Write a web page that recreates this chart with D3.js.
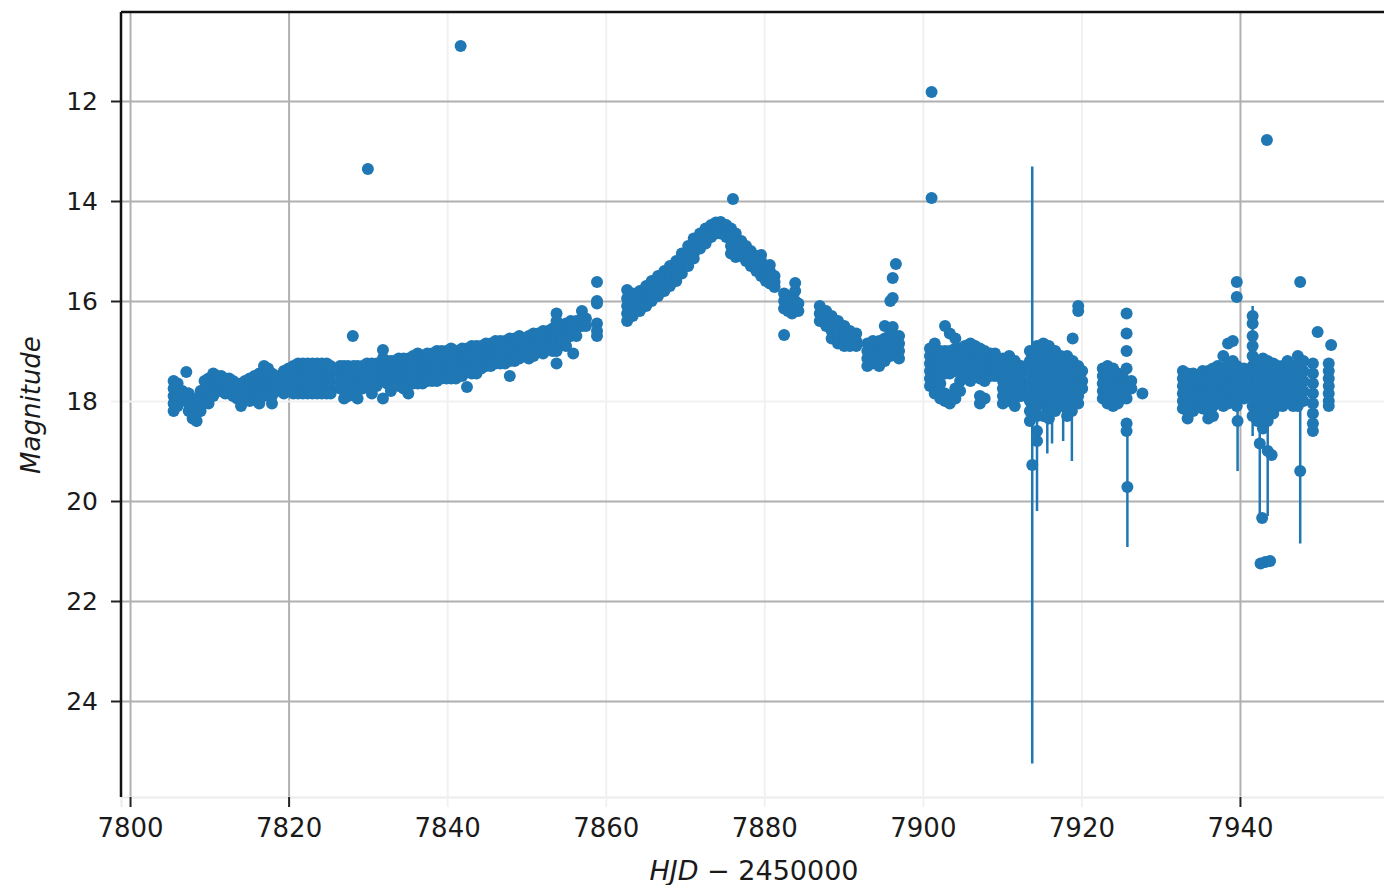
<!DOCTYPE html>
<html>
<head>
<meta charset="utf-8">
<script src="https://cdn.jsdelivr.net/npm/d3@7"></script>
<style>
  body { margin: 0; background: #fff; }
  text { font-family: "DejaVu Sans", sans-serif; fill: #1a1a1a; }
</style>
</head>
<body>
<div id="chart"></div>
<script>
// tick values
var xTicks = [7800, 7820, 7840, 7860, 7880, 7900, 7920, 7940];
var yTicks = [12, 14, 16, 18, 20, 22, 24];
var xFaint = [7840, 7860, 7880, 7900, 7920];
var yFaint = [18];

// observations: each row is [HJD-2450000, error, mag, mag, ...]
var night1 = [
  [7805.5, 0.1, 17.6, 17.75, 17.9, 18.05, 18.2],
  [7806.0, 0.1, 17.65, 17.8, 17.95, 18.1],
  [7806.6, 0.1, 17.8, 17.95],
  [7807.1, 0.05, 17.42],
  [7807.4, 0.12, 17.85, 18.05, 18.2],
  [7807.9, 0.12, 17.95, 18.15, 18.35],
  [7808.4, 0.12, 18.0, 18.2, 18.4],
  [7808.9, 0.12, 17.8, 18.0, 18.2],
  [7809.4, 0.1, 17.6, 17.8, 17.95],
  [7809.9, 0.1, 17.55, 17.7, 17.9, 18.05],
  [7810.5, 0.1, 17.45, 17.6, 17.75, 17.9],
  [7811.0, 0.08, 17.5, 17.65, 17.8],
  [7811.5, 0.08, 17.5, 17.65, 17.8],
  [7812.0, 0.08, 17.55, 17.7, 17.85],
  [7812.5, 0.08, 17.55, 17.7, 17.85],
  [7813.0, 0.08, 17.6, 17.75, 17.9],
  [7813.5, 0.08, 17.65, 17.8, 17.95],
  [7814.0, 0.1, 17.65, 17.8, 17.95, 18.1],
  [7814.5, 0.08, 17.6, 17.75, 17.9],
  [7815.1, 0.1, 17.55, 17.7, 17.85, 18.0],
  [7815.7, 0.08, 17.5, 17.65, 17.8, 17.95],
  [7816.3, 0.08, 17.45, 17.6, 17.75, 17.9, 18.05],
  [7816.9, 0.1, 17.3, 17.45, 17.6, 17.75, 17.9],
  [7817.4, 0.1, 17.35, 17.5, 17.65, 17.8],
  [7817.9, 0.08, 17.45, 17.6, 17.75, 17.9, 18.05],
  [7818.5, 0.08, 17.5, 17.65, 17.8]
];

var night2 = [
  [7819.4, 0.08, 17.4, 17.55, 17.7, 17.85],
  [7820.0, 0.08, 17.35, 17.5, 17.65, 17.8],
  [7820.6, 0.08, 17.3, 17.45, 17.6, 17.75, 17.85],
  [7821.2, 0.08, 17.25, 17.4, 17.55, 17.7, 17.85],
  [7821.8, 0.08, 17.25, 17.4, 17.55, 17.7, 17.85],
  [7822.4, 0.08, 17.25, 17.4, 17.55, 17.7, 17.85],
  [7823.0, 0.08, 17.25, 17.4, 17.55, 17.7, 17.85],
  [7823.6, 0.08, 17.25, 17.4, 17.55, 17.7, 17.85],
  [7824.2, 0.08, 17.25, 17.4, 17.55, 17.7, 17.85],
  [7824.8, 0.08, 17.25, 17.4, 17.55, 17.7, 17.85],
  [7825.3, 0.08, 17.3, 17.45, 17.6, 17.75, 17.85],
  [7826.5, 0.08, 17.3, 17.45, 17.6, 17.75],
  [7827.0, 0.08, 17.3, 17.45, 17.6, 17.75, 17.95],
  [7827.5, 0.08, 17.3, 17.45, 17.6, 17.75, 17.9],
  [7828.1, 0.05, 16.7],
  [7828.2, 0.08, 17.3, 17.45, 17.6, 17.75],
  [7828.7, 0.1, 17.3, 17.45, 17.6, 17.75, 17.95],
  [7829.3, 0.08, 17.3, 17.45, 17.6, 17.75],
  [7830.0, 0.05, 13.36],
  [7829.9, 0.08, 17.25, 17.4, 17.55, 17.7],
  [7830.5, 0.1, 17.25, 17.4, 17.55, 17.7, 17.85],
  [7831.1, 0.08, 17.25, 17.4, 17.55, 17.7],
  [7831.9, 0.08, 16.98, 17.15, 17.3, 17.45, 17.6, 17.95],
  [7832.4, 0.08, 17.2, 17.35, 17.5, 17.65],
  [7832.9, 0.1, 17.2, 17.35, 17.5, 17.65, 17.8],
  [7833.4, 0.08, 17.2, 17.35, 17.5, 17.65]
];

var night3 = [
  [7833.9, 0.08, 17.15, 17.3, 17.45, 17.6, 17.7],
  [7834.5, 0.08, 17.15, 17.3, 17.45, 17.6, 17.75],
  [7835.1, 0.08, 17.15, 17.3, 17.45, 17.6, 17.85],
  [7835.7, 0.08, 17.1, 17.25, 17.4, 17.55, 17.65],
  [7836.3, 0.1, 17.05, 17.2, 17.35, 17.5, 17.65],
  [7836.9, 0.08, 17.1, 17.25, 17.4, 17.55, 17.65],
  [7837.5, 0.08, 17.05, 17.2, 17.35, 17.5, 17.6],
  [7838.1, 0.08, 17.05, 17.2, 17.35, 17.5, 17.6],
  [7838.7, 0.08, 17.0, 17.15, 17.3, 17.45, 17.6],
  [7839.3, 0.08, 17.0, 17.15, 17.3, 17.45, 17.55],
  [7839.9, 0.08, 17.0, 17.15, 17.3, 17.45, 17.55],
  [7840.5, 0.08, 16.95, 17.1, 17.25, 17.4, 17.55],
  [7841.1, 0.08, 17.0, 17.15, 17.3, 17.45, 17.55],
  [7841.7, 0.05, 10.9],
  [7841.9, 0.08, 16.95, 17.1, 17.25, 17.4, 17.5],
  [7842.5, 0.08, 16.95, 17.1, 17.25, 17.4, 17.72],
  [7843.1, 0.08, 16.9, 17.05, 17.2, 17.35, 17.45],
  [7843.7, 0.08, 16.9, 17.05, 17.2, 17.35, 17.45],
  [7844.3, 0.08, 16.9, 17.05, 17.2, 17.35],
  [7844.9, 0.08, 16.85, 17.0, 17.15, 17.3],
  [7845.5, 0.08, 16.85, 17.0, 17.15, 17.3],
  [7846.1, 0.08, 16.8, 16.95, 17.1, 17.25],
  [7846.7, 0.08, 16.8, 16.95, 17.1, 17.25],
  [7847.3, 0.08, 16.8, 16.95, 17.1, 17.25],
  [7847.9, 0.08, 16.75, 16.9, 17.05, 17.2, 17.5],
  [7848.5, 0.08, 16.75, 16.9, 17.05, 17.2],
  [7849.1, 0.08, 16.7, 16.85, 17.0, 17.15],
  [7849.7, 0.08, 16.75, 16.9, 17.05],
  [7850.3, 0.08, 16.7, 16.85, 17.0, 17.15],
  [7850.9, 0.08, 16.65, 16.8, 16.95, 17.1],
  [7851.5, 0.08, 16.65, 16.8, 16.95],
  [7852.1, 0.08, 16.6, 16.75, 16.9, 17.05],
  [7852.7, 0.08, 16.6, 16.75, 16.9],
  [7853.3, 0.08, 16.55, 16.7, 16.85, 17.0],
  [7853.8, 0.08, 16.25, 16.4, 16.55, 16.7, 16.85, 17.0, 17.25],
  [7854.4, 0.08, 16.5, 16.65, 16.8],
  [7855.0, 0.08, 16.45, 16.6, 16.75, 16.9],
  [7855.6, 0.08, 16.4, 16.55, 16.7],
  [7855.9, 0.05, 17.05],
  [7856.3, 0.08, 16.4, 16.55, 16.7],
  [7857.0, 0.08, 16.2, 16.35, 16.5],
  [7857.5, 0.08, 16.35, 16.5],
  [7858.9, 0.08, 15.62, 16.0, 16.05, 16.45, 16.6, 16.7]
];

var night4 = [
  [7862.7, 0.08, 15.78, 15.95, 16.1, 16.25, 16.4],
  [7863.4, 0.08, 15.85, 16.0, 16.15, 16.3],
  [7864.3, 0.08, 15.8, 15.95, 16.1, 16.2],
  [7865.1, 0.08, 15.7, 15.85, 16.0, 16.1],
  [7865.8, 0.08, 15.6, 15.75, 15.9, 16.0],
  [7866.6, 0.08, 15.5, 15.65, 15.8, 15.9],
  [7867.4, 0.08, 15.4, 15.55, 15.7, 15.8],
  [7868.1, 0.08, 15.3, 15.45, 15.6, 15.7],
  [7868.9, 0.08, 15.2, 15.35, 15.5, 15.6],
  [7869.6, 0.08, 15.05, 15.2, 15.35, 15.45],
  [7870.4, 0.08, 14.9, 15.05, 15.2, 15.3],
  [7871.1, 0.08, 14.75, 14.9, 15.05, 15.15],
  [7871.9, 0.08, 14.65, 14.8, 14.95],
  [7872.6, 0.08, 14.55, 14.7, 14.85],
  [7873.3, 0.08, 14.48, 14.6, 14.72],
  [7873.9, 0.08, 14.43, 14.55, 14.65],
  [7874.5, 0.08, 14.42, 14.55, 14.65],
  [7875.2, 0.08, 14.48, 14.6, 14.72],
  [7875.8, 0.08, 14.55, 14.7, 14.9, 15.05],
  [7876.05, 0.05, 13.96],
  [7876.4, 0.08, 14.65, 14.8, 14.95, 15.12],
  [7877.1, 0.08, 14.8, 14.95, 15.1],
  [7877.7, 0.08, 14.9, 15.05, 15.2],
  [7878.3, 0.08, 15.0, 15.15, 15.3],
  [7879.0, 0.08, 15.1, 15.25, 15.4],
  [7879.6, 0.08, 15.08, 15.2, 15.35, 15.5],
  [7880.2, 0.08, 15.3, 15.45, 15.6],
  [7880.7, 0.08, 15.28, 15.4, 15.55, 15.65],
  [7881.3, 0.08, 15.5, 15.62, 15.72]
];

var night5 = [
  [7882.5, 0.08, 15.85, 16.0, 16.15, 16.68],
  [7883.0, 0.08, 15.9, 16.05, 16.2],
  [7883.5, 0.08, 15.95, 16.1, 16.25],
  [7883.9, 0.08, 15.64, 15.8, 16.0, 16.15],
  [7884.3, 0.08, 16.05, 16.2],
  [7887.0, 0.08, 16.1, 16.25, 16.4],
  [7887.8, 0.08, 16.2, 16.35, 16.5],
  [7888.5, 0.08, 16.3, 16.45, 16.6, 16.75],
  [7889.3, 0.08, 16.4, 16.55, 16.7, 16.85],
  [7890.1, 0.08, 16.5, 16.65, 16.8, 16.9],
  [7890.8, 0.08, 16.6, 16.75, 16.9],
  [7891.6, 0.08, 16.65, 16.8, 16.9],
  [7893.0, 0.08, 16.85, 17.0, 17.15, 17.3],
  [7893.7, 0.08, 16.8, 16.95, 17.1, 17.25],
  [7894.5, 0.08, 16.8, 16.95, 17.1, 17.3],
  [7895.2, 0.08, 16.5, 16.75, 16.9, 17.05, 17.2],
  [7895.9, 0.08, 16.0, 16.6, 16.8, 16.95, 17.1],
  [7896.2, 0.06, 15.54, 15.94, 16.52],
  [7896.6, 0.05, 15.26],
  [7897.0, 0.08, 16.7, 16.85, 17.0, 17.15]
];

var night6 = [
  [7901.1, 0.05, 11.82, 13.94],
  [7900.9, 0.08, 16.95, 17.1, 17.25, 17.4, 17.55, 17.7],
  [7901.5, 0.08, 16.85, 17.0, 17.15, 17.3, 17.5, 17.7, 17.85],
  [7902.2, 0.08, 17.0, 17.15, 17.3, 17.45, 17.65, 17.8, 17.95],
  [7902.8, 0.08, 16.5, 17.0, 17.15, 17.3, 17.45, 17.85, 18.0],
  [7903.4, 0.08, 16.65, 17.0, 17.15, 17.3, 17.45, 17.9, 18.05],
  [7904.1, 0.08, 16.75, 16.95, 17.1, 17.25, 17.4, 17.75, 17.95],
  [7904.7, 0.08, 16.95, 17.1, 17.25, 17.4, 17.6, 17.8],
  [7905.3, 0.08, 16.9, 17.05, 17.2, 17.35, 17.55],
  [7906.0, 0.08, 16.85, 17.0, 17.15, 17.3, 17.45, 17.6],
  [7906.6, 0.08, 16.9, 17.05, 17.2, 17.35, 17.5],
  [7907.2, 0.08, 16.95, 17.1, 17.25, 17.4, 17.55, 17.9, 18.05],
  [7907.8, 0.08, 17.0, 17.15, 17.3, 17.45, 17.6, 17.95],
  [7908.5, 0.08, 17.05, 17.2, 17.35, 17.5],
  [7909.1, 0.08, 17.05, 17.2, 17.35, 17.5],
  [7910.1, 0.08, 17.15, 17.3, 17.45, 17.6, 17.75, 17.9, 18.05],
  [7910.9, 0.08, 17.1, 17.25, 17.4, 17.55, 17.7, 17.85, 18.0],
  [7911.6, 0.08, 17.2, 17.35, 17.5, 17.65, 17.8, 17.95, 18.1],
  [7912.4, 0.08, 17.3, 17.45, 17.6, 17.75, 17.9]
];

var night7 = [
  [7913.5, 0.1, 17.0, 17.2, 17.4, 17.6, 17.8, 18.0, 18.2, 18.4],
  [7913.8, 5.97, 19.28],
  [7914.4, 1.4, 18.8],
  [7914.4, 0.1, 16.9, 17.1, 17.3, 17.5, 17.7, 17.9, 18.1, 18.3, 18.6],
  [7915.2, 0.1, 16.85, 17.05, 17.25, 17.45, 17.65, 17.85, 18.05, 18.3],
  [7915.7, 0.9, 18.15],
  [7915.9, 0.1, 16.9, 17.1, 17.3, 17.5, 17.7, 17.9, 18.1, 18.35],
  [7916.3, 0.8, 18.05],
  [7916.7, 0.1, 17.0, 17.2, 17.4, 17.6, 17.8, 18.0, 18.2],
  [7917.4, 0.1, 17.1, 17.3, 17.5, 17.7, 17.9, 18.1],
  [7917.7, 0.75, 18.05],
  [7918.2, 0.1, 17.1, 17.3, 17.5, 17.7, 17.9, 18.1, 18.3],
  [7918.8, 1.0, 18.2],
  [7918.9, 0.1, 16.75, 17.2, 17.4, 17.6, 17.8, 18.0],
  [7919.6, 0.1, 16.1, 16.2, 17.3, 17.5, 17.7, 17.9, 18.05],
  [7920.1, 0.08, 17.4, 17.6, 17.75]
];

var night8 = [
  [7922.7, 0.08, 17.35, 17.5, 17.65, 17.8, 17.95],
  [7923.3, 0.08, 17.3, 17.45, 17.6, 17.75, 17.9, 18.05],
  [7924.0, 0.08, 17.35, 17.5, 17.65, 17.8, 17.95, 18.1],
  [7924.6, 0.08, 17.45, 17.6, 17.75, 17.9, 18.05],
  [7925.2, 0.08, 17.5, 17.65, 17.8, 17.95],
  [7925.7, 0.08, 16.25, 16.65, 17.0, 17.35, 17.65, 17.95, 18.45, 18.6],
  [7925.8, 1.2, 19.72],
  [7926.3, 0.08, 17.6, 17.75],
  [7927.7, 0.1, 17.85]
];

var night9 = [
  [7932.8, 0.08, 17.4, 17.55, 17.7, 17.85, 18.0, 18.15],
  [7933.4, 0.1, 17.45, 17.6, 17.75, 17.9, 18.05, 18.2, 18.35],
  [7934.1, 0.08, 17.45, 17.6, 17.75, 17.9, 18.05, 18.2],
  [7934.7, 0.08, 17.5, 17.65, 17.8, 17.95, 18.1],
  [7935.3, 0.08, 17.4, 17.55, 17.7, 17.85, 18.0, 18.15],
  [7936.0, 0.1, 17.4, 17.55, 17.7, 17.85, 18.0, 18.2, 18.35],
  [7936.6, 0.08, 17.35, 17.5, 17.65, 17.8, 17.95, 18.1, 18.3],
  [7937.2, 0.08, 17.3, 17.45, 17.6, 17.75, 17.9, 18.05],
  [7937.9, 0.08, 17.1, 17.35, 17.5, 17.65, 17.8, 17.95, 18.1],
  [7938.5, 0.08, 16.85, 17.25, 17.45, 17.6, 17.75, 17.9, 18.05],
  [7939.1, 0.08, 16.8, 17.2, 17.4, 17.55, 17.7, 17.85, 18.0],
  [7939.6, 0.08, 15.62, 15.92, 17.3, 17.5, 17.7, 17.9, 18.1],
  [7939.7, 1.0, 18.4],
  [7940.5, 0.08, 17.35, 17.5, 17.65, 17.8, 17.95],
  [7941.6, 0.1, 16.3, 16.45, 16.7, 16.9, 17.1, 17.3, 17.5, 17.7, 17.9, 18.1, 18.3],
  [7941.6, 1.3, 17.4],
  [7942.2, 0.1, 17.2, 17.4, 17.6, 17.8, 18.0, 18.2, 18.4],
  [7942.5, 1.5, 18.85],
  [7942.8, 0.1, 20.34],
  [7942.6, 0.05, 21.25],
  [7942.9, 0.1, 17.15, 17.35, 17.55, 17.75, 17.95, 18.15, 18.35, 18.55],
  [7943.2, 0.05, 21.22],
  [7943.4, 0.05, 12.78],
  [7943.5, 1.3, 19.0],
  [7943.5, 0.1, 17.2, 17.4, 17.6, 17.8, 18.0, 18.2, 18.4],
  [7943.8, 0.05, 21.2],
  [7944.0, 0.1, 19.08],
  [7944.2, 0.1, 17.25, 17.45, 17.65, 17.85, 18.05, 18.25],
  [7944.8, 0.1, 17.3, 17.5, 17.7, 17.9, 18.1],
  [7945.4, 0.1, 17.3, 17.5, 17.7, 17.9, 18.1],
  [7946.0, 0.1, 17.2, 17.4, 17.6, 17.8, 18.0],
  [7946.7, 0.1, 17.3, 17.5, 17.7, 17.9, 18.1],
  [7947.3, 0.1, 17.1, 17.3, 17.5, 17.7, 17.9, 18.1],
  [7947.6, 0.05, 15.62],
  [7947.6, 1.45, 19.4],
  [7948.0, 0.1, 17.2, 17.4, 17.6, 17.8, 18.0],
  [7949.2, 0.1, 17.25, 17.45, 17.65, 17.85, 18.05, 18.25, 18.45, 18.6],
  [7949.8, 0.05, 16.62],
  [7951.2, 0.1, 17.25, 17.4, 17.55, 17.7, 17.85, 18.0, 18.1],
  [7951.5, 0.05, 16.88]
];

var nights = [night1, night2, night3, night4, night5, night6, night7, night8, night9];

// flatten rows to one point per magnitude
var points = [];
nights.forEach(function (rows) {
  rows.forEach(function (r) {
    for (var i = 2; i < r.length; i++) points.push({ t: r[0], e: r[1], m: r[i] });
  });
});

var width = 1384, height = 885;
var margin = { top: 12, left: 121 };
var plotW = 1268, plotH = 785;
var blue = "#1f77b4";

var svg = d3.select("#chart").append("svg")
  .attr("width", width)
  .attr("height", height);

// magnitude axis is inverted: bright (small) values at top
var xScale = d3.scaleLinear().domain([7798.86, 7958.8]).range([0, plotW]);
var yScale = d3.scaleLinear().domain([10.22, 25.92]).range([0, plotH]);

var g = svg.append("g").attr("transform", `translate(${margin.left},${margin.top})`);

// grid
var xGrid = g.append("g")
  .call(d3.axisBottom(xScale).tickValues(xTicks).tickSize(plotH).tickFormat(""));
xGrid.select(".domain").remove();
xGrid.selectAll(".tick line")
  .attr("stroke", function (d) { return xFaint.indexOf(d) >= 0 ? "#f1f1f1" : "#b0b0b0"; })
  .attr("stroke-width", 2);

var yGrid = g.append("g")
  .call(d3.axisRight(yScale).tickValues(yTicks).tickSize(plotW).tickFormat(""));
yGrid.select(".domain").remove();
yGrid.selectAll(".tick line")
  .attr("stroke", function (d) { return yFaint.indexOf(d) >= 0 ? "#f1f1f1" : "#b0b0b0"; })
  .attr("stroke-width", 2);

// error bars
g.append("g")
  .selectAll("line")
  .data(points)
  .enter()
  .append("line")
  .attr("x1", function (d) { return xScale(d.t); })
  .attr("x2", function (d) { return xScale(d.t); })
  .attr("y1", function (d) { return yScale(d.m - d.e); })
  .attr("y2", function (d) { return yScale(d.m + d.e); })
  .attr("stroke", blue)
  .attr("stroke-width", 2.5);

// markers
g.append("g")
  .selectAll("circle")
  .data(points)
  .enter()
  .append("circle")
  .attr("cx", function (d) { return xScale(d.t); })
  .attr("cy", function (d) { return yScale(d.m); })
  .attr("r", 6)
  .attr("fill", blue);

// axes with ticks and labels
var xAxis = g.append("g")
  .attr("transform", `translate(0,${plotH})`)
  .call(d3.axisBottom(xScale).tickValues(xTicks).tickSize(10).tickPadding(12).tickFormat(d3.format("d")));
xAxis.select(".domain").attr("stroke", "#ececec").attr("stroke-width", 2);
xAxis.selectAll(".tick line")
  .attr("stroke", function (d) { return xFaint.indexOf(d) >= 0 ? "#f1f1f1" : "#222"; })
  .attr("stroke-width", 2);
xAxis.selectAll(".tick text").style("font-size", "26px").attr("fill", "#1a1a1a");

var yAxis = g.append("g")
  .call(d3.axisLeft(yScale).tickValues(yTicks).tickSize(10).tickPadding(13).tickFormat(d3.format("d")));
yAxis.select(".domain").remove();
yAxis.selectAll(".tick line")
  .attr("stroke", function (d) { return yFaint.indexOf(d) >= 0 ? "#f1f1f1" : "#222"; })
  .attr("stroke-width", 2);
yAxis.selectAll(".tick text").style("font-size", "25px").attr("fill", "#1a1a1a");

// spines (left and top)
g.append("line").attr("x1", 0).attr("x2", 0).attr("y1", 0).attr("y2", plotH)
  .attr("stroke", "#111").attr("stroke-width", 2.5);
g.append("line").attr("x1", 0).attr("x2", plotW).attr("y1", 0).attr("y2", 0)
  .attr("stroke", "#111").attr("stroke-width", 2.5);

// axis titles
var xl = svg.append("text")
  .attr("x", 754)
  .attr("y", 880)
  .attr("text-anchor", "middle")
  .style("font-size", "27px");
xl.append("tspan").style("font-style", "italic").text("HJD");
xl.append("tspan").text(" \u2212 2450000");

svg.append("text")
  .attr("transform", "translate(40,405) rotate(-90)")
  .attr("text-anchor", "middle")
  .style("font-size", "26px")
  .style("font-style", "italic")
  .text("Magnitude");
</script>
</body>
</html>
